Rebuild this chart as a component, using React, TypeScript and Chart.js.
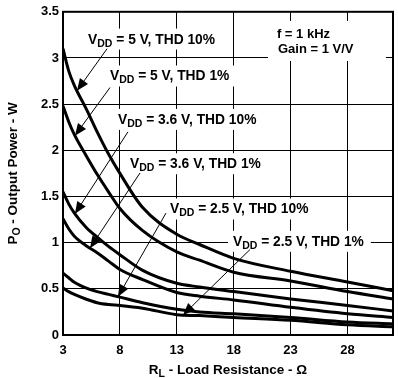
import React, { useEffect, useRef } from 'react';
import { Chart, registerables } from 'chart.js';

Chart.register(...registerables);

// ---- data ----
const LOAD_OHMS = [3, 3.5, 4, 5, 6, 7, 8, 10, 13, 15, 18, 23, 28, 32];
const P_5V_THD10 = [3.1, 2.86, 2.7, 2.46, 2.2, 1.96, 1.75, 1.38, 1.09, 0.98, 0.83, 0.69, 0.575, 0.48];
const P_5V_THD1 = [2.48, 2.31, 2.17, 1.95, 1.74, 1.55, 1.37, 1.13, 0.9, 0.81, 0.68, 0.585, 0.47, 0.39];
const P_36V_THD10 = [1.55, 1.42, 1.32, 1.17, 1.06, 0.96, 0.87, 0.7, 0.56, 0.52, 0.47, 0.39, 0.32, 0.26];
const P_36V_THD1 = [1.26, 1.15, 1.07, 0.97, 0.89, 0.8, 0.71, 0.6, 0.46, 0.42, 0.38, 0.3, 0.23, 0.19];
const P_25V_THD10 = [0.67, 0.62, 0.57, 0.51, 0.47, 0.44, 0.41, 0.35, 0.28, 0.25, 0.23, 0.19, 0.14, 0.12];
const P_25V_THD1 = [0.51, 0.47, 0.44, 0.39, 0.35, 0.33, 0.32, 0.29, 0.22, 0.21, 0.19, 0.16, 0.11, 0.09];

const SERIES = [P_5V_THD10, P_5V_THD1, P_36V_THD10, P_36V_THD1, P_25V_THD10, P_25V_THD1];
const SERIES_NAMES = [
  ' = 5 V, THD 10%',
  ' = 5 V, THD 1%',
  ' = 3.6 V, THD 10%',
  ' = 3.6 V, THD 1%',
  ' = 2.5 V, THD 10%',
  ' = 2.5 V, THD 1%',
];

const X_TICKS = [3, 8, 13, 18, 23, 28];
const X_MIN = 3;
const X_MAX = 32;
const Y_MIN = 0;
const Y_MAX = 3.5;
const Y_STEP = 0.5;

const CONDITIONS = ['f = 1 kHz', 'Gain = 1 V/V'];

// annotation placement (data coordinates): label left/center, leader start, tip x on curve
const LABEL_POS = [
  { lx: 5.2, ly: 3.21, sx: 6.87, sy: 3.1, tipX: 4.23 },
  { lx: 7.13, ly: 2.81, sx: 7.13, sy: 2.68, tipX: 4.05 },
  { lx: 7.83, ly: 2.34, sx: 8.71, sy: 2.2, tipX: 4.05 },
  { lx: 8.89, ly: 1.86, sx: 9.77, sy: 1.755, tipX: 5.37 },
  { lx: 12.4, ly: 1.37, sx: 12.05, sy: 1.32, tipX: 7.83 },
  { lx: 17.94, ly: 1.02, sx: 19.43, sy: 0.925, tipX: 13.55 },
];

const FONT_FAMILY = '"Liberation Sans", Arial, Helvetica, sans-serif';
const MAIN_PX = 13.8;
const SUB_PX = 10.5;

function interp(xs: number[], ys: number[], x: number) {
  for (let i = 0; i < xs.length - 1; i++) {
    if (x >= xs[i] && x <= xs[i + 1]) {
      const t = (x - xs[i]) / (xs[i + 1] - xs[i]);
      return ys[i] + t * (ys[i + 1] - ys[i]);
    }
  }
  return ys[ys.length - 1];
}

function richWidth(ctx: CanvasRenderingContext2D, base: string, sub: string, rest: string, size = MAIN_PX) {
  ctx.font = `bold ${size}px ${FONT_FAMILY}`;
  const w1 = ctx.measureText(base).width;
  const w3 = ctx.measureText(rest).width;
  ctx.font = `bold ${SUB_PX}px ${FONT_FAMILY}`;
  const w2 = ctx.measureText(sub).width;
  return w1 + w2 + w3;
}

function drawRich(ctx: CanvasRenderingContext2D, base: string, sub: string, rest: string, x: number, yMid: number, size = MAIN_PX) {
  const baseline = yMid + size * 0.36;
  ctx.fillStyle = '#000';
  ctx.textAlign = 'left';
  ctx.textBaseline = 'alphabetic';
  ctx.font = `bold ${size}px ${FONT_FAMILY}`;
  ctx.fillText(base, x, baseline);
  let cx = x + ctx.measureText(base).width;
  ctx.font = `bold ${SUB_PX}px ${FONT_FAMILY}`;
  ctx.fillText(sub, cx, baseline + 3);
  cx += ctx.measureText(sub).width;
  ctx.font = `bold ${size}px ${FONT_FAMILY}`;
  ctx.fillText(rest, cx, baseline);
}

const overlayPlugin = {
  id: 'overlay',
  beforeDatasetsDraw(chart: any) {
    const { ctx } = chart;
    const xs = chart.scales.x;
    const ys = chart.scales.y;
    ctx.save();
    // series labels with white boxes
    LABEL_POS.forEach((p, i) => {
      const px = xs.getPixelForValue(p.lx);
      const py = ys.getPixelForValue(p.ly);
      const w = richWidth(ctx, 'V', 'DD', SERIES_NAMES[i]);
      ctx.fillStyle = '#fff';
      ctx.fillRect(px - 5, py - 10, w + 12, 21);
      drawRich(ctx, 'V', 'DD', SERIES_NAMES[i], px, py);
    });
    // conditions box
    const cx = xs.getPixelForValue(21.8);
    const cy1 = ys.getPixelForValue(3.26);
    const cy2 = ys.getPixelForValue(3.09);
    ctx.fillStyle = '#fff';
    ctx.fillRect(cx - 9, cy1 - 13, 118, 40);
    ctx.fillStyle = '#000';
    ctx.font = `bold ${MAIN_PX - 0.8}px ${FONT_FAMILY}`;
    ctx.textAlign = 'left';
    ctx.textBaseline = 'middle';
    ctx.fillText(CONDITIONS[0], cx, cy1);
    ctx.fillText(CONDITIONS[1], cx + 1, cy2);
    ctx.restore();
  },
  afterDatasetsDraw(chart: any) {
    const { ctx, chartArea } = chart;
    const xs = chart.scales.x;
    const ys = chart.scales.y;
    ctx.save();
    // leader lines with arrowheads
    LABEL_POS.forEach((p, i) => {
      const x0 = xs.getPixelForValue(p.sx);
      const y0 = ys.getPixelForValue(p.sy);
      const x1 = xs.getPixelForValue(p.tipX);
      const y1 = ys.getPixelForValue(interp(LOAD_OHMS, SERIES[i], p.tipX));
      ctx.strokeStyle = '#000';
      ctx.lineWidth = 1;
      ctx.beginPath();
      ctx.moveTo(x0, y0);
      ctx.lineTo(x1, y1);
      ctx.stroke();
      const ang = Math.atan2(y1 - y0, x1 - x0);
      const L = 12;
      const H = 5;
      const bx = x1 - L * Math.cos(ang);
      const by = y1 - L * Math.sin(ang);
      ctx.fillStyle = '#000';
      ctx.beginPath();
      ctx.moveTo(x1, y1);
      ctx.lineTo(bx + H * Math.sin(ang), by - H * Math.cos(ang));
      ctx.lineTo(bx - H * Math.sin(ang), by + H * Math.cos(ang));
      ctx.closePath();
      ctx.fill();
    });
    // frame
    ctx.strokeStyle = '#000';
    ctx.lineWidth = 2;
    ctx.strokeRect(chartArea.left, chartArea.top, chartArea.right - chartArea.left, chartArea.bottom - chartArea.top);
    ctx.restore();
  },
  afterDraw(chart: any) {
    const { ctx, chartArea } = chart;
    ctx.save();
    const TS = 13.5;
    // x title
    const wx = richWidth(ctx, 'R', 'L', ' - Load Resistance - Ω', TS);
    const midX = (chartArea.left + chartArea.right) / 2;
    drawRich(ctx, 'R', 'L', ' - Load Resistance - Ω', midX - wx / 2, 369, TS);
    // y title
    const wy = richWidth(ctx, 'P', 'O', ' - Output Power - W', TS);
    const midY = (chartArea.top + chartArea.bottom) / 2;
    ctx.translate(12, midY);
    ctx.rotate(-Math.PI / 2);
    drawRich(ctx, 'P', 'O', ' - Output Power - W', -wy / 2, 0, TS);
    ctx.restore();
  },
};

export default function App() {
  const canvasRef = useRef<HTMLCanvasElement | null>(null);

  useEffect(() => {
    document.body.style.margin = '0';
    const canvas = canvasRef.current;
    if (!canvas) return;
    const chart = new Chart(canvas, {
      type: 'line',
      data: {
        labels: LOAD_OHMS,
        datasets: SERIES.map((s, i) => ({
          label: 'VDD' + SERIES_NAMES[i],
          data: s.map((v, k) => ({ x: LOAD_OHMS[k], y: v })),
          borderColor: '#000',
          borderWidth: 3,
          pointRadius: 0,
          fill: false,
          cubicInterpolationMode: 'monotone' as const,
        })),
      },
      options: {
        animation: false,
        responsive: true,
        maintainAspectRatio: false,
        layout: { padding: { left: 0, top: 6, right: 5, bottom: 0 } },
        plugins: {
          legend: { display: false },
          tooltip: { enabled: false },
        },
        scales: {
          x: {
            type: 'linear',
            min: X_MIN,
            max: X_MAX,
            afterBuildTicks: (scale: any) => {
              scale.ticks = X_TICKS.map((v) => ({ value: v }));
            },
            afterFit: (scale: any) => {
              scale.height = 43;
            },
            grid: { color: '#000', lineWidth: 1, drawTicks: false },
            border: { display: false },
            ticks: {
              color: '#000',
              padding: 8,
              font: { family: FONT_FAMILY, size: 13, weight: 'bold' },
              callback: (v: any) => String(v),
            },
          },
          y: {
            type: 'linear',
            min: Y_MIN,
            max: Y_MAX,
            afterFit: (scale: any) => {
              scale.width = 63;
            },
            grid: { color: '#000', lineWidth: 1, drawTicks: false },
            border: { display: false },
            ticks: {
              stepSize: Y_STEP,
              color: '#000',
              padding: 4,
              font: { family: FONT_FAMILY, size: 13, weight: 'bold' },
              callback: (v: any) => String(v),
            },
          },
        },
      },
      plugins: [overlayPlugin],
    });
    return () => chart.destroy();
  }, []);

  return (
    <div style={{ position: 'absolute', left: 0, top: 0, width: 398, height: 378, background: '#fff' }}>
      <canvas ref={canvasRef} />
    </div>
  );
}
